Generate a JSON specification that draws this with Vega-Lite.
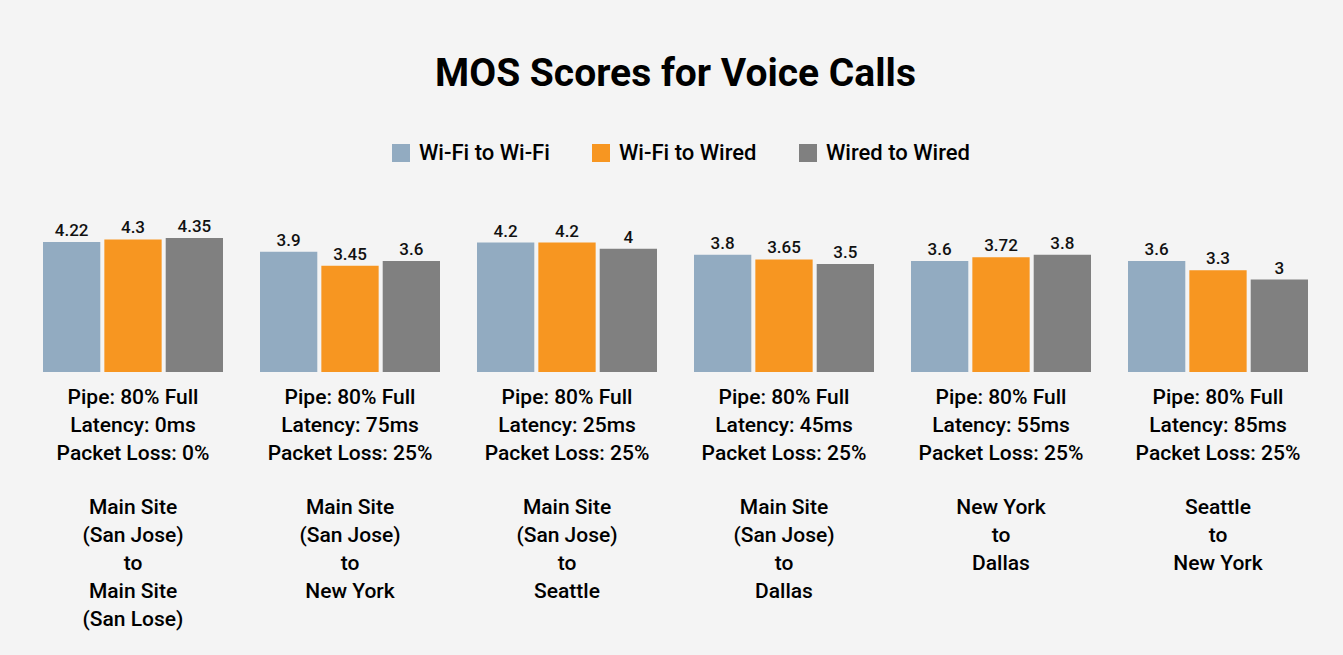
{
  "$schema": "https://vega.github.io/schema/vega-lite/v6.json",
  "autosize": "none",
  "width": 1265,
  "height": 172,
  "padding": {"left": 43, "top": 200, "right": 35, "bottom": 283},
  "background": "#f4f4f4",
  "config": {"view": {"stroke": null}, "font": "Roboto",
    "axisX": {"title": null, "domain": false, "ticks": false, "tickSize": 0, "labelAngle": 0,
      "labelFont": "Roboto", "labelFontSize": 21, "labelFontWeight": 500, "labelLineHeight": 28, "labelColor": "#000000", "labelBaseline": "top",
      "labelLimit": 400, "labelOverlap": false, "labelBound": false}},
  "title": {"text": "MOS Scores for Voice Calls", "font": "Roboto", "fontSize": 39, "fontWeight": "bold", "color": "#000000", "anchor": "middle", "offset": 48},
  "data": {"values": [
    {"group": "Pipe: 80% Full|Latency: 0ms|Packet Loss: 0%||Main Site|(San Jose)|to|Main Site|(San Lose)", "series": "Wi-Fi to Wi-Fi", "mos": 4.22},
    {"group": "Pipe: 80% Full|Latency: 0ms|Packet Loss: 0%||Main Site|(San Jose)|to|Main Site|(San Lose)", "series": "Wi-Fi to Wired", "mos": 4.3},
    {"group": "Pipe: 80% Full|Latency: 0ms|Packet Loss: 0%||Main Site|(San Jose)|to|Main Site|(San Lose)", "series": "Wired to Wired", "mos": 4.35},
    {"group": "Pipe: 80% Full|Latency: 75ms|Packet Loss: 25%||Main Site|(San Jose)|to|New York", "series": "Wi-Fi to Wi-Fi", "mos": 3.9},
    {"group": "Pipe: 80% Full|Latency: 75ms|Packet Loss: 25%||Main Site|(San Jose)|to|New York", "series": "Wi-Fi to Wired", "mos": 3.45},
    {"group": "Pipe: 80% Full|Latency: 75ms|Packet Loss: 25%||Main Site|(San Jose)|to|New York", "series": "Wired to Wired", "mos": 3.6},
    {"group": "Pipe: 80% Full|Latency: 25ms|Packet Loss: 25%||Main Site|(San Jose)|to|Seattle", "series": "Wi-Fi to Wi-Fi", "mos": 4.2},
    {"group": "Pipe: 80% Full|Latency: 25ms|Packet Loss: 25%||Main Site|(San Jose)|to|Seattle", "series": "Wi-Fi to Wired", "mos": 4.2},
    {"group": "Pipe: 80% Full|Latency: 25ms|Packet Loss: 25%||Main Site|(San Jose)|to|Seattle", "series": "Wired to Wired", "mos": 4},
    {"group": "Pipe: 80% Full|Latency: 45ms|Packet Loss: 25%||Main Site|(San Jose)|to|Dallas", "series": "Wi-Fi to Wi-Fi", "mos": 3.8},
    {"group": "Pipe: 80% Full|Latency: 45ms|Packet Loss: 25%||Main Site|(San Jose)|to|Dallas", "series": "Wi-Fi to Wired", "mos": 3.65},
    {"group": "Pipe: 80% Full|Latency: 45ms|Packet Loss: 25%||Main Site|(San Jose)|to|Dallas", "series": "Wired to Wired", "mos": 3.5},
    {"group": "Pipe: 80% Full|Latency: 55ms|Packet Loss: 25%||New York|to|Dallas", "series": "Wi-Fi to Wi-Fi", "mos": 3.6},
    {"group": "Pipe: 80% Full|Latency: 55ms|Packet Loss: 25%||New York|to|Dallas", "series": "Wi-Fi to Wired", "mos": 3.72},
    {"group": "Pipe: 80% Full|Latency: 55ms|Packet Loss: 25%||New York|to|Dallas", "series": "Wired to Wired", "mos": 3.8},
    {"group": "Pipe: 80% Full|Latency: 85ms|Packet Loss: 25%||Seattle|to|New York", "series": "Wi-Fi to Wi-Fi", "mos": 3.6},
    {"group": "Pipe: 80% Full|Latency: 85ms|Packet Loss: 25%||Seattle|to|New York", "series": "Wi-Fi to Wired", "mos": 3.3},
    {"group": "Pipe: 80% Full|Latency: 85ms|Packet Loss: 25%||Seattle|to|New York", "series": "Wired to Wired", "mos": 3}
  ]},
  "encoding": {
    "xOffset": {"field": "series", "type": "nominal", "sort": ["Wi-Fi to Wi-Fi", "Wi-Fi to Wired", "Wired to Wired"],
      "scale": {"paddingInner": 0.066, "paddingOuter": 0}},
    "y": {"field": "mos", "type": "quantitative", "scale": {"domain": [0, 5.58]}, "axis": null}
  },
  "layer": [
    {"mark": {"type": "bar"},
     "encoding": {
      "x": {"field": "group", "type": "nominal", "sort": null,
        "scale": {"paddingInner": 0.1705, "paddingOuter": 0},
        "axis": {"orient": "bottom", "labelPadding": 14, "labelExpr": "split(split(datum.label, '||')[0], '|')"}},
      "color": {"field": "series", "type": "nominal",
        "scale": {"domain": ["Wi-Fi to Wi-Fi", "Wi-Fi to Wired", "Wired to Wired"], "range": ["#92abc1", "#f79621", "#808080"]},
        "legend": {"title": null, "orient": "none", "direction": "horizontal", "legendX": 347, "legendY": -58,
          "symbolType": "square", "symbolSize": 324, "symbolStrokeWidth": 0, "labelFont": "Roboto", "labelFontSize": 22, "labelFontWeight": 500,
          "labelColor": "#000000", "labelOffset": 7, "columnPadding": 40}}}},
    {"mark": {"type": "text", "baseline": "alphabetic", "dy": -6, "font": "Roboto", "fontSize": 17, "fontWeight": 500, "color": "#111111"},
     "encoding": {
      "x": {"field": "group", "type": "nominal", "sort": null,
        "scale": {"paddingInner": 0.1705, "paddingOuter": 0},
        "axis": {"orient": "bottom", "labelPadding": 124, "labelExpr": "split(split(datum.label, '||')[1], '|')"}},
      "text": {"field": "mos", "type": "quantitative"}}}
  ],
  "resolve": {"axis": {"x": "independent"}}
}
